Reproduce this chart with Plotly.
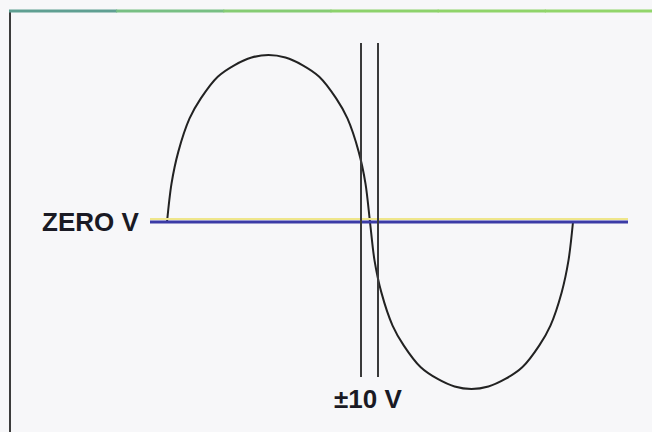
import plotly.graph_objects as go

W, H = 652, 432

# one cycle of the waveform (phase in degrees, volts)
# the drawn wave is fuller than a true sine: steep near zero, broad humps
phase_deg = [0, 4, 10, 20, 30, 45, 60, 75, 90, 105, 120, 135, 150, 160, 170, 176,
             180, 184, 190, 200, 210, 225, 240, 255, 270, 285, 300, 315, 330, 340, 350, 356, 360]
volts = [0, 2.3, 4.2, 6.2, 7.4, 8.7, 9.4, 9.85, 10, 9.85, 9.4, 8.7, 7.4, 6.2, 4.2, 2.3,
         0, -2.3, -4.2, -6.2, -7.4, -8.7, -9.4, -9.85, -10, -9.85, -9.4, -8.7, -7.4, -6.2, -4.2, -2.3, 0]

zero_label = 'ZERO V'
window_label = '±10 V'


def px(x):
    return x / W


def py(y):
    return 1 - y / H


# pixel -> data mapping: 0 deg at x=167, 360 deg at x=573, 0 V at y=222, 16.7 px per volt
deg_per_px = 360 / 406
x_range = [(0 - 167) * deg_per_px, (W - 167) * deg_per_px]
y_range = [-(H - 222) / 16.7, 222 / 16.7]

fig = go.Figure()

# zero reference line (blue, with the yellow print fringe just above it)
fig.add_shape(type='line', xref='x', yref='y',
              x0=(150 - 167) * deg_per_px, x1=(628 - 167) * deg_per_px,
              y0=3 / 16.7, y1=3 / 16.7,
              line=dict(color='#efe68c', width=2))
fig.add_shape(type='line', xref='x', yref='y',
              x0=(150 - 167) * deg_per_px, x1=(628 - 167) * deg_per_px,
              y0=0, y1=0,
              line=dict(color='#3b3ba6', width=3))

# the two window lines around the zero crossing
for xp in (361, 378):
    fig.add_shape(type='line', xref='x', yref='y',
                  x0=(xp - 167) * deg_per_px, x1=(xp - 167) * deg_per_px,
                  y0=(222 - 43) / 16.7, y1=(222 - 377) / 16.7,
                  line=dict(color='#3a3a3a', width=2))

fig.add_trace(go.Scatter(
    x=phase_deg, y=volts, mode='lines',
    line=dict(color='#222222', width=2, shape='spline', smoothing=0.9),
    hoverinfo='skip', showlegend=False))

# frame: left rule and the green top rule
fig.add_shape(type='line', xref='paper', yref='paper',
              x0=px(10), x1=px(10), y0=py(11), y1=py(H),
              line=dict(color='#3c3c3c', width=2))
top_cols = ['#5f9f92', '#78bf84', '#86cc74', '#8dd26c', '#90d46a', '#92d56b']
seg = (W - 9) / len(top_cols)
for i, c in enumerate(top_cols):
    fig.add_shape(type='line', xref='paper', yref='paper',
                  x0=px(9 + i * seg), x1=px(9 + (i + 1) * seg + 1),
                  y0=py(11), y1=py(11),
                  line=dict(color=c, width=3))

fig.add_annotation(x=px(141), y=py(222), xref='paper', yref='paper',
                   text='<b>' + zero_label + '</b>', showarrow=False,
                   xanchor='right', yanchor='middle',
                   font=dict(family='Liberation Sans, Arial', size=26, color='#1a1a24'))
fig.add_annotation(x=px(368), y=py(399), xref='paper', yref='paper',
                   text='<b>' + window_label + '</b>', showarrow=False,
                   xanchor='center', yanchor='middle',
                   font=dict(family='Liberation Sans, Arial', size=26, color='#1a1a24'))

fig.update_xaxes(range=x_range, visible=False, fixedrange=True)
fig.update_yaxes(range=y_range, visible=False, fixedrange=True)
fig.update_layout(
    width=W, height=H, autosize=False,
    margin=dict(l=0, r=0, t=0, b=0, pad=0),
    paper_bgcolor='#f7f7f9', plot_bgcolor='#f7f7f9',
)

# drop the browser's default 8px body margin so the figure fills the window
fig.write_html('out.html', config={'displayModeBar': False},
               post_script="document.body.style.margin='0';")
